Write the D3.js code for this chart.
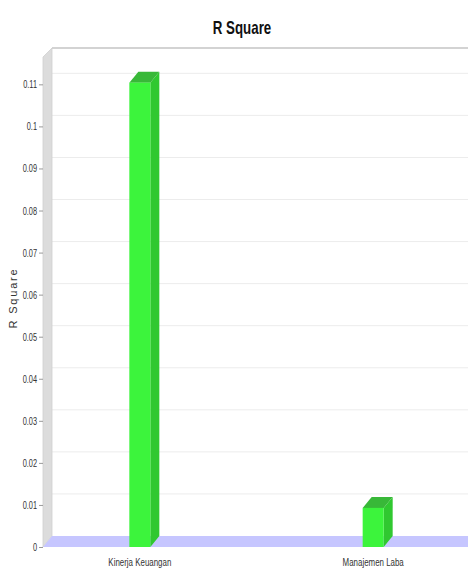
<!DOCTYPE html>
<html><head><meta charset="utf-8">
<script src="https://cdn.jsdelivr.net/npm/d3@7"></script>
<style>
body{margin:0;background:#fff;}
svg{display:block;}
</style></head>
<body><svg id="chart" width="468" height="570"></svg>
<script>
const title = "R Square";
const yTitle = "R Square";
const categories = ["Kinerja Keuangan", "Manajemen Laba"];
const values = [0.1104, 0.0093];
const yTicks = [0, 0.01, 0.02, 0.03, 0.04, 0.05, 0.06, 0.07, 0.08, 0.09, 0.1, 0.11];

(function () {
const W = 468, H = 570;
const pLeft = 43, pRight = 470, pTop = 57, pBottom = 547;
const dx = 9, dy = -11;
const FONT = "Liberation Sans, Arial, sans-serif";

const svg = d3.select("#chart");
const x = d3.scaleBand().domain(categories).range([pLeft, pRight]).paddingInner(0.91).paddingOuter(0.37);
const y = d3.scaleLinear().domain([0, 0.1165]).range([pBottom, pTop]);

// back wall top line
svg.append("line").attr("x1", pLeft + dx).attr("x2", W).attr("y1", pTop + dy + 2).attr("y2", pTop + dy + 2)
  .attr("stroke", "#c4c4c4").attr("stroke-width", 1.5);

// gridlines on back wall
svg.append("g").selectAll("line").data(yTicks.filter(d => d > 0)).join("line")
  .attr("x1", pLeft + dx).attr("x2", W)
  .attr("y1", d => y(d) + dy).attr("y2", d => y(d) + dy)
  .attr("stroke", "#ececec").attr("stroke-width", 1);

// left wall
svg.append("path")
  .attr("d", `M${pLeft},${pBottom}L${pLeft},${pTop}L${pLeft + dx},${pTop + dy + 2}L${pLeft + dx},${pBottom + dy}Z`)
  .attr("fill", "#dcdcdc").attr("stroke", "#cfcfcf").attr("stroke-width", 0.8);

// floor
svg.append("path")
  .attr("d", `M${pLeft},${pBottom}L${pRight},${pBottom}L${pRight + dx},${pBottom + dy}L${pLeft + dx},${pBottom + dy}Z`)
  .attr("fill", "#c6c6ff");

// bars
const bars = svg.append("g").selectAll("g").data(categories.map((c, i) => ({c, v: values[i]}))).join("g");
bars.append("path") // side
  .attr("d", d => {
    const x1 = x(d.c) + x.bandwidth();
    return `M${x1},${y(d.v)}L${x1 + dx},${y(d.v) + dy}L${x1 + dx},${y(0) + dy}L${x1},${y(0)}Z`;
  }).attr("fill", "#30c830");
bars.append("path") // top
  .attr("d", d => {
    const x0 = x(d.c), x1 = x0 + x.bandwidth();
    return `M${x0},${y(d.v)}L${x0 + dx},${y(d.v) + dy}L${x1 + dx},${y(d.v) + dy}L${x1},${y(d.v)}Z`;
  }).attr("fill", "#38b838");
bars.append("rect") // front
  .attr("x", d => x(d.c)).attr("width", x.bandwidth())
  .attr("y", d => y(d.v)).attr("height", d => y(0) - y(d.v))
  .attr("fill", "#3cf43c");

// y axis
const tsx = 0.67;
const yAxis = svg.append("g").attr("transform", `translate(${pLeft},0)`)
  .call(d3.axisLeft(y).tickValues(yTicks).tickFormat(d3.format(".2~f")).tickSize(4).tickSizeOuter(0));
yAxis.select(".domain").remove();
yAxis.attr("font-family", FONT).attr("font-size", 11);
yAxis.selectAll(".tick line").attr("stroke", "#999");
yAxis.selectAll(".tick text").attr("fill", "#333")
  .attr("x", -6 / tsx).attr("transform", `scale(${tsx},1)`);

// category labels
svg.append("g").selectAll("text").data(categories).join("text")
  .attr("transform", d => `translate(${x(d) + x.bandwidth() / 2},566) scale(0.72,1)`)
  .attr("text-anchor", "middle").attr("font-family", FONT).attr("font-size", 11).attr("fill", "#333")
  .text(d => d);

// title
svg.append("text")
  .attr("transform", `translate(242,34) scale(0.74,1)`).attr("text-anchor", "middle")
  .attr("font-family", FONT).attr("font-size", 18).attr("font-weight", "bold").attr("fill", "#111")
  .text(title);

// y title
svg.append("text")
  .attr("transform", "translate(17,298) rotate(-90)")
  .attr("text-anchor", "middle").attr("font-family", FONT)
  .attr("font-size", 11).attr("letter-spacing", 1.8).attr("fill", "#333")
  .text(yTitle);
})();
</script></body></html>
